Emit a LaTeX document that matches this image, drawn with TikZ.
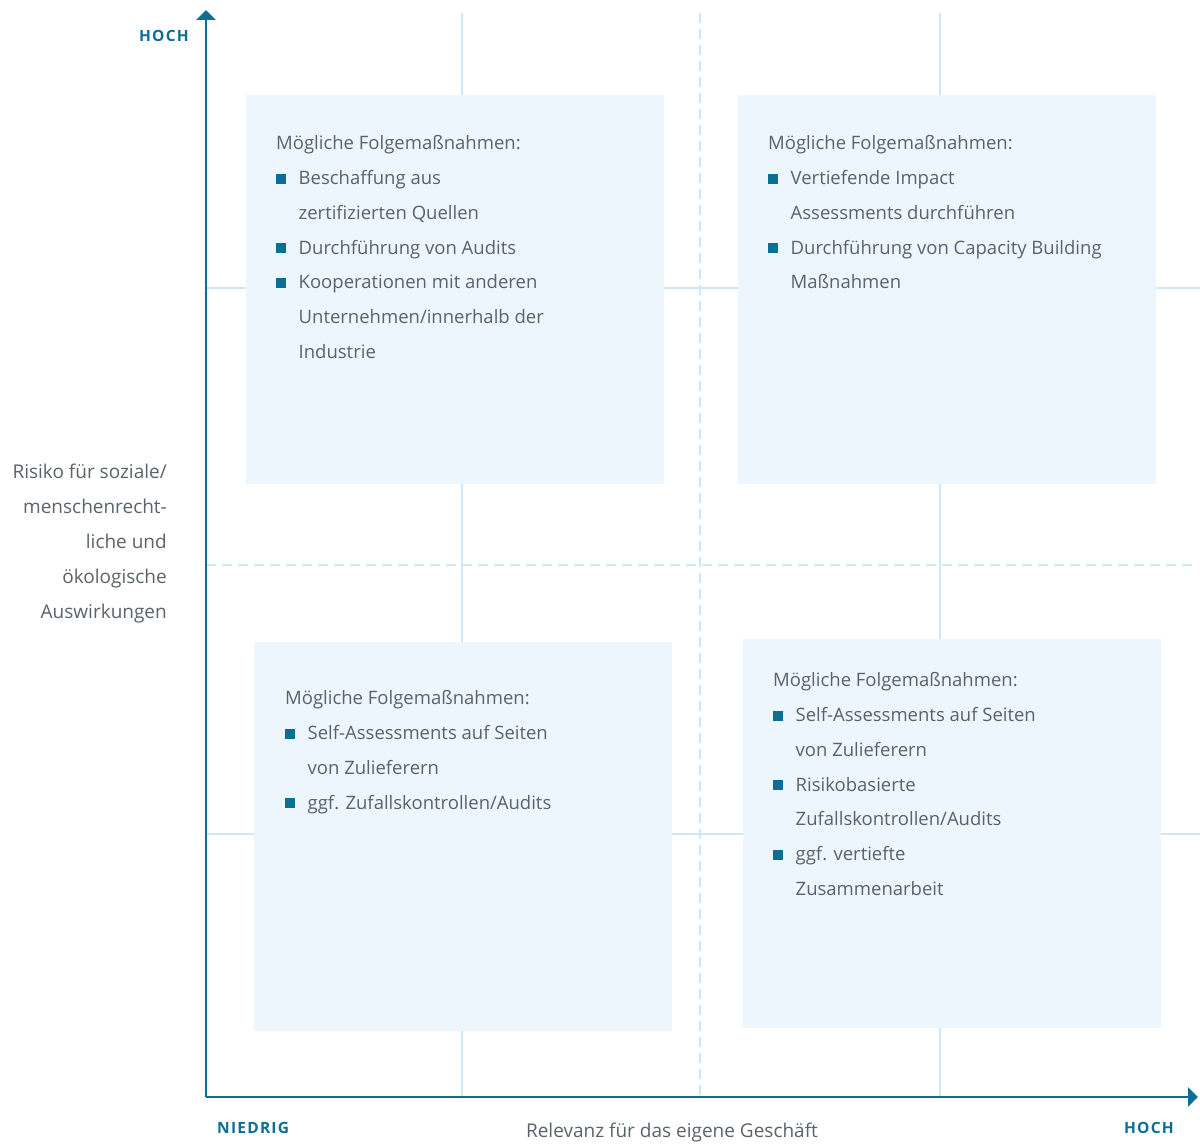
\documentclass[tikz,border=0pt]{standalone}
\usepackage{fontspec}
\setmainfont{Open Sans}
\newfontfamily\lblfont[LetterSpace=8]{Open Sans}
\usetikzlibrary{arrows.meta}
\definecolor{axisc}{HTML}{0B6F95}
\definecolor{gridc}{HTML}{CFE8F7}
\definecolor{boxc}{HTML}{EEF6FD}
\definecolor{txtc}{HTML}{5A6369}
\newcommand{\bsq}{\makebox[22.5pt][l]{\raisebox{1pt}{\color{axisc}\rule{10pt}{10pt}}}}
\newcommand{\cind}{\hspace*{22.5pt}}
\tikzset{
  gridline/.style={draw=gridc, line width=2pt},
  dashline/.style={draw=gridc, line width=2pt, dash pattern=on 10pt off 6pt},
  axisline/.style={draw=axisc, line width=2.6pt, -{Triangle[width=19pt,length=10pt]}},
  quad/.style={fill=boxc, draw=none, inner sep=0pt, minimum width=418pt, minimum height=389pt, anchor=north west},
  listtxt/.style={text=txtc, align=left, anchor=north west, inner sep=0pt, font=\fontsize{18.5}{34.75}\selectfont},
  axlbl/.style={text=axisc, font=\lblfont\bfseries\fontsize{15.5}{18}\selectfont, inner sep=0pt},
  sidelbl/.style={text=txtc, font=\fontsize{19}{34.9}\selectfont, inner sep=0pt}
}
\begin{document}
\begin{tikzpicture}[x=1pt,y=-1pt]
\useasboundingbox (0,0) rectangle (1200,1145);
% grid
\draw[gridline] (462,13) -- (462,1097);
\draw[gridline] (940,13) -- (940,1097);
\draw[gridline] (206,288) -- (1200,288);
\draw[gridline] (206,834) -- (1200,834);
\draw[dashline] (700,13) -- (700,1097);
\draw[dashline] (206,565) -- (1192,565);
% boxes
\node[quad] (tl) at (246,95) {};
\node[quad] (tr) at (738,95) {};
\node[quad] (bl) at (254,642) {};
\node[quad] (br) at (743,639) {};
% texts
\node[listtxt] (tltxt) at (276,135.5) {M\"ogliche Folgema\ss nahmen:\\
\bsq Beschaffung aus\\
\cind zertifizierten Quellen\\
\bsq Durchf\"uhrung von Audits\\
\bsq Kooperationen mit anderen\\
\cind Unternehmen/innerhalb der\\
\cind Industrie};
\node[listtxt] (trtxt) at (768,135.5) {M\"ogliche Folgema\ss nahmen:\\
\bsq Vertiefende Impact\\
\cind Assessments durchf\"uhren\\
\bsq Durchf\"uhrung von Capacity Building\\
\cind Ma\ss nahmen};
\node[listtxt] (bltxt) at (285,690.5) {M\"ogliche Folgema\ss nahmen:\\
\bsq Self-Assessments auf Seiten\\
\cind von Zulieferern\\
\bsq ggf. Zufallskontrollen/Audits};
\node[listtxt] (brtxt) at (773,672.5) {M\"ogliche Folgema\ss nahmen:\\
\bsq Self-Assessments auf Seiten\\
\cind von Zulieferern\\
\bsq Risikobasierte\\
\cind Zufallskontrollen/Audits\\
\bsq ggf. vertiefte\\
\cind Zusammenarbeit};
% axes
\coordinate (origin) at (206,1097);
\coordinate (ytip) at (206,10);
\coordinate (xtip) at (1198,1097);
\draw[axisline] (origin) -- (ytip);
\draw[axisline] (origin) -- (xtip);
% labels
\node[axlbl, anchor=east] (yhoch) at (189,36) {HOCH};
\node[axlbl, anchor=west] (xniedrig) at (217,1128) {NIEDRIG};
\node[axlbl, anchor=east] (xhoch) at (1174,1128) {HOCH};
\node[sidelbl, anchor=center] (xlbl) at (672,1132.5) {Relevanz f\"ur das eigene Gesch\"aft};
\node[sidelbl, align=right, anchor=north east] (ylbl) at (167,464) {Risiko f\"ur soziale/\\menschenrecht-\\liche und\\\"okologische\\Auswirkungen};
\end{tikzpicture}
\end{document}
